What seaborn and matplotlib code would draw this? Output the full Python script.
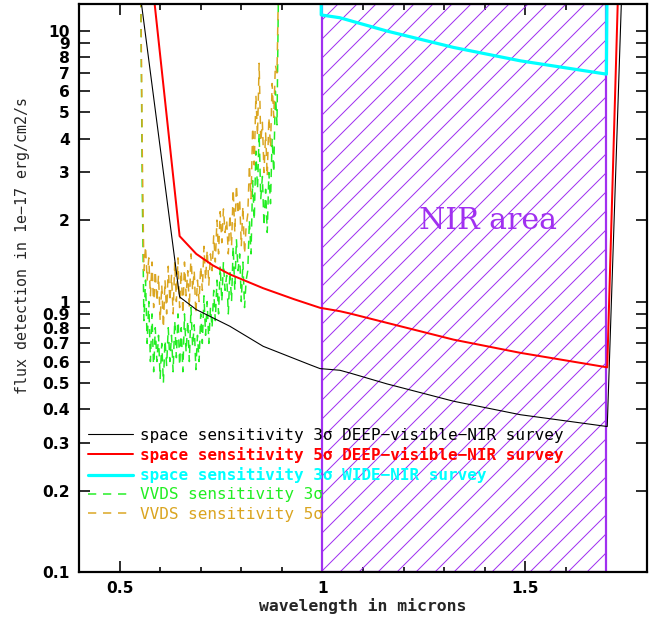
import numpy as np
import pandas as pd
import matplotlib
matplotlib.use("Agg")
import matplotlib.pyplot as plt
import seaborn as sns
from matplotlib.ticker import FixedLocator, FixedFormatter, MultipleLocator, NullLocator

DPI = 114


def pt(px):
    return px * 72.0 / DPI


sns.set_style("ticks")
plt.rcParams['font.family'] = ['DejaVu Sans']
plt.rcParams['hatch.linewidth'] = pt(1.0)

# ---------------- data ----------------
deep3_wave = [0.545, 0.648, 0.689, 0.772, 0.854, 0.969, 0.994, 1.043, 1.068,
              1.159, 1.323, 1.488, 1.702, 1.75]
deep3_flux = [16.0, 1.04, 0.934, 0.81, 0.683, 0.584, 0.565, 0.557, 0.544,
              0.496, 0.428, 0.3815, 0.345, 50.0]

deep5_wave = [0.579, 0.648, 0.689, 0.730, 0.772, 0.854, 0.930, 0.994, 1.043,
              1.068, 1.159, 1.323, 1.488, 1.702, 1.75]
deep5_flux = [16.0, 1.745, 1.50, 1.36, 1.26, 1.12, 1.02, 0.948, 0.921,
              0.903, 0.834, 0.723, 0.646, 0.571, 180.0]

wide3_wave = [0.997, 0.997, 1.043, 1.159, 1.323, 1.488, 1.700, 1.703]
wide3_flux = [30.0, 11.47, 11.2, 10.0, 8.7, 7.76, 6.93, 30.0]

vvds_wave = [0.552, 0.556, 0.560, 0.564, 0.568, 0.572, 0.576, 0.580, 0.584, 0.588,
             0.592, 0.596, 0.600, 0.604, 0.608, 0.612, 0.616, 0.620, 0.624, 0.628,
             0.632, 0.636, 0.640, 0.644, 0.648, 0.652, 0.656, 0.660, 0.664, 0.668,
             0.672, 0.676, 0.680, 0.684, 0.688, 0.692, 0.696, 0.700, 0.704, 0.708,
             0.712, 0.716, 0.720, 0.724, 0.728, 0.732, 0.736, 0.740, 0.744, 0.748,
             0.752, 0.756, 0.760, 0.764, 0.768, 0.772, 0.776, 0.780, 0.784, 0.788,
             0.792, 0.796, 0.800, 0.804, 0.808, 0.812, 0.816, 0.820, 0.824, 0.828,
             0.832, 0.836, 0.840, 0.844, 0.848, 0.852, 0.856, 0.860, 0.864, 0.868,
             0.872, 0.876, 0.880, 0.884, 0.888, 0.892]
vvds_3sig = [16.0, 2.5, 0.85, 1.2, 0.7, 1.0, 0.6, 0.9, 0.55, 0.8,
             0.6, 0.75, 0.52, 0.7, 0.5, 0.72, 0.58, 0.8, 0.6, 0.75,
             0.55, 0.85, 0.62, 0.9, 0.58, 0.8, 0.55, 0.9, 0.65, 0.85,
             0.6, 0.95, 0.68, 0.82, 0.56, 0.75, 0.6, 0.9, 0.7, 1.05,
             0.75, 1.0, 0.7, 0.95, 0.8, 1.1, 0.85, 1.2, 0.9, 1.35,
             1.0, 1.4, 1.1, 1.25, 0.9, 1.3, 1.0, 1.6, 1.1, 1.7,
             1.3, 1.5, 1.0, 1.4, 0.95, 1.2, 1.3, 2.0, 1.5, 2.8,
             2.0, 3.6, 2.6, 4.2, 2.4, 2.9, 1.9, 2.6, 1.8, 3.0,
             2.3, 4.0, 3.0, 6.0, 4.5, 16.0]
vvds_5sig = [16.0, 3.5, 1.3, 1.6, 1.2, 1.45, 1.05, 1.4, 0.95, 1.3,
             1.0, 1.25, 0.85, 1.15, 0.8, 1.2, 0.9, 1.35, 1.0, 1.25,
             0.9, 1.4, 1.0, 1.45, 0.95, 1.3, 0.9, 1.4, 1.05, 1.3,
             0.95, 1.5, 1.1, 1.3, 0.9, 1.2, 1.0, 1.35, 1.1, 1.6,
             1.2, 1.55, 1.15, 1.5, 1.3, 1.75, 1.4, 2.0, 1.5, 2.15,
             1.65, 2.2, 1.8, 2.0, 1.5, 2.1, 1.6, 2.6, 1.8, 2.7,
             2.1, 2.4, 1.6, 2.25, 1.5, 1.9, 2.1, 3.2, 2.4, 4.4,
             3.2, 5.8, 4.1, 7.6, 3.9, 4.6, 3.0, 4.2, 2.9, 4.8,
             3.7, 6.4, 4.8, 7.5, 7.0, 16.0]

nir_range = [1.0, 1.70]
nir_label = "NIR area"

legend_labels = [
    "space sensitivity 3\u03c3 DEEP\u2212visible\u2212NIR survey",
    "space sensitivity 5\u03c3 DEEP\u2212visible\u2212NIR survey",
    "space sensitivity 3\u03c3 WIDE\u2212NIR survey",
    "VVDS sensitivity 3\u03c3",
    "VVDS sensitivity 5\u03c3",
]

ytick_vals = [0.1, 0.2, 0.3, 0.4, 0.5, 0.6, 0.7, 0.8, 0.9,
              1, 2, 3, 4, 5, 6, 7, 8, 9, 10]
ytick_labels = ["0.1", "0.2", "0.3", "0.4", "0.5", "0.6", "0.7", "0.8", "0.9",
                "1", "2", "3", "4", "5", "6", "7", "8", "9", "10"]
xtick_vals = [0.5, 1.0, 1.5]
xtick_labels = ["0.5", "1", "1.5"]

# ---------------- styles ----------------
PURPLE = "#a030f0"
RED = "#ff0000"
CYAN = "#00ffff"
GREEN = "#22ee22"
GOLD = "#daa520"
MONO = "DejaVu Sans Mono"

fig = plt.figure(figsize=(657 / DPI, 626 / DPI), dpi=DPI)
ax = fig.add_axes([79 / 657, 1 - 572 / 626, 568 / 657, 568 / 626])
ax.set_yscale("log")
ax.set_xlim(0.4, 1.8)
ax.set_ylim(0.1, 12.59)

ax.axvspan(nir_range[0], nir_range[1], facecolor="none", edgecolor=PURPLE,
           hatch="//", linewidth=pt(2.2), zorder=1)
ax.text(1.407, 1.98, nir_label, color=PURPLE, fontsize=pt(30),
        family="DejaVu Serif", ha="center", va="center", zorder=3)

dash = (0, (5.5, 4.5))
sns.lineplot(x=vvds_wave, y=vvds_3sig, ax=ax, color=GREEN, lw=pt(1.5),
             linestyle=dash, sort=False, estimator=None,
             label=legend_labels[3], zorder=2)
sns.lineplot(x=vvds_wave, y=vvds_5sig, ax=ax, color=GOLD, lw=pt(1.5),
             linestyle=dash, sort=False, estimator=None,
             label=legend_labels[4], zorder=2)
sns.lineplot(x=deep3_wave, y=deep3_flux, ax=ax, color="black", lw=pt(1.1),
             sort=False, estimator=None, label=legend_labels[0], zorder=3)
sns.lineplot(x=deep5_wave, y=deep5_flux, ax=ax, color=RED, lw=pt(2.0),
             sort=False, estimator=None, label=legend_labels[1], zorder=3)
sns.lineplot(x=wide3_wave, y=wide3_flux, ax=ax, color=CYAN, lw=pt(3.2),
             sort=False, estimator=None, label=legend_labels[2], zorder=3)

# ---------------- ticks / axes ----------------
ax.yaxis.set_major_locator(FixedLocator(ytick_vals))
ax.yaxis.set_major_formatter(FixedFormatter(ytick_labels))
ax.yaxis.set_minor_locator(NullLocator())
ax.xaxis.set_major_locator(FixedLocator(xtick_vals))
ax.xaxis.set_major_formatter(FixedFormatter(xtick_labels))
ax.xaxis.set_minor_locator(MultipleLocator(0.1))

ax.tick_params(axis="both", which="both", direction="in", top=True, right=True,
               width=pt(1.6), colors="black")
ax.tick_params(axis="x", which="major", length=pt(11), pad=pt(9))
ax.tick_params(axis="x", which="minor", length=pt(5.5))
ax.tick_params(axis="y", which="major", length=pt(11), pad=pt(9))
for lab in ax.get_xticklabels() + ax.get_yticklabels():
    lab.set_fontsize(pt(15.5))
    lab.set_fontweight("bold")

for s in ax.spines.values():
    s.set_linewidth(pt(2.2))
    s.set_color("black")
    s.set_zorder(5)

ax.set_xlabel("wavelength in microns", fontsize=pt(16.5), fontweight="bold",
              family=MONO, labelpad=pt(2))
ax.set_ylabel("flux detection in 1e\u221217 erg/cm2/s", fontsize=pt(15),
              family=MONO)
ax.yaxis.set_label_coords(-0.086, 0.574)

handles, labels = ax.get_legend_handles_labels()
order = [labels.index(l) for l in legend_labels]
leg = ax.legend([handles[i] for i in order], [labels[i] for i in order],
                loc="upper left", bbox_to_anchor=(0.016, 0.2544),
                frameon=False, prop={"family": MONO, "size": pt(16)},
                borderpad=0, borderaxespad=0,
                handlelength=2.8, handletextpad=0.45, labelspacing=0.27,
                labelcolor="linecolor")
for t in leg.get_texts()[1:3]:
    t.set_fontweight("bold")
leg.set_zorder(6)

fig.savefig("out.png", dpi=DPI)
